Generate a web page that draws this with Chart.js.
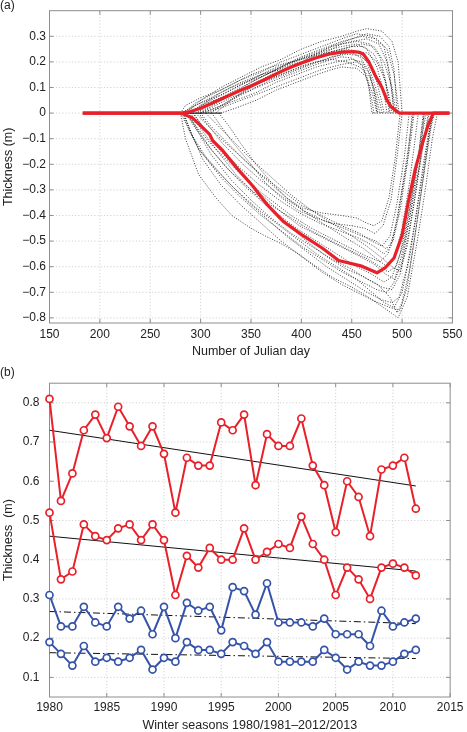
<!DOCTYPE html>
<html><head><meta charset="utf-8">
<script src="https://cdn.jsdelivr.net/npm/chart.js@4.4.0/dist/chart.umd.min.js"></script>
<style>
html,body{margin:0;padding:0;background:#fff;}
#wrap{position:relative;width:467px;height:732px;overflow:hidden;}
canvas{position:absolute;left:0;}
#ca{top:0}
#cb{top:366px}
</style></head><body>
<div id="wrap"><canvas id="ca" width="467" height="366"></canvas><canvas id="cb" width="467" height="366"></canvas></div>
<script>
// ---------- Panel (a): ice growth curves, [Julian day, thickness m] ----------
const dayTicks = [150, 200, 250, 300, 350, 400, 450, 500, 550];
const thicknessTicksA = [-0.8, -0.7, -0.6, -0.5, -0.4, -0.3, -0.2, -0.1, 0, 0.1, 0.2, 0.3];

const meanUpper = [[183,0],[281,0],[290,0.006],[300,0.019],[312,0.04],[325,0.063],[338,0.086],[351,0.108],[365,0.133],[378,0.159],[390,0.18],[401,0.197],[414,0.215],[427,0.23],[440,0.238],[452,0.24],[458,0.237],[462,0.228],[467,0.2],[473,0.15],[480,0.1],[485,0.05],[489,0.025],[497,0],[547,0]];
const meanLower = [[183,0],[281,0],[292,-0.019],[302,-0.057],[309,-0.083],[312,-0.108],[322,-0.147],[335,-0.21],[352,-0.286],[366,-0.358],[382,-0.423],[401,-0.477],[421,-0.528],[437,-0.576],[460,-0.598],[475,-0.624],[483,-0.605],[492,-0.566],[500,-0.477],[506,-0.35],[513,-0.22],[520,-0.12],[526,-0.045],[531,0],[547,0]];

const zeroStart = [[281,0],[321,0]];
const zeroEnd = [[470,0],[498,0]];

const U01 = [[280,0],[290,0.02],[300,0.04],[320,0.07],[340,0.11],[360,0.15],[380,0.18],[400,0.21],[420,0.24],[440,0.26],[455,0.27],[465,0.25],[475,0.18],[482,0.08],[485,0]];
const U02 = [[285,0],[300,0.05],[320,0.1],[340,0.14],[360,0.18],[380,0.21],[400,0.25],[420,0.28],[440,0.3],[455,0.32],[465,0.33],[480,0.32],[490,0.28],[496,0.2],[500,0]];
const U03 = [[290,0],[300,0.02],[320,0.06],[340,0.1],[360,0.14],[380,0.18],[400,0.22],[420,0.25],[440,0.28],[460,0.3],[475,0.29],[485,0.25],[492,0.15],[497,0]];
const U04 = [[295,0],[310,0.03],[330,0.07],[350,0.11],[370,0.15],[390,0.18],[410,0.21],[430,0.23],[445,0.25],[455,0.24],[465,0.2],[472,0.12],[478,0.04],[480,0]];
const U05 = [[300,0],[315,0.02],[335,0.06],[355,0.1],[375,0.13],[395,0.16],[415,0.19],[430,0.21],[440,0.22],[450,0.215],[460,0.19],[466,0.12],[470,0.05],[472,0]];
const U06 = [[305,0],[320,0.02],[340,0.05],[360,0.08],[380,0.11],[400,0.14],[420,0.17],[440,0.19],[455,0.2],[462,0.18],[467,0.1],[470,0]];
const U07 = [[310,0],[325,0.04],[345,0.09],[365,0.13],[385,0.16],[405,0.19],[425,0.21],[440,0.23],[450,0.24],[465,0.235],[475,0.2],[483,0.13],[488,0.05],[490,0]];
const U08 = [[320,0],[335,0.02],[355,0.05],[375,0.09],[395,0.12],[415,0.15],[430,0.17],[440,0.18],[455,0.175],[465,0.14],[471,0.07],[475,0]];
const U09 = [[280,0],[285,0.03],[300,0.06],[320,0.09],[340,0.13],[360,0.16],[380,0.2],[400,0.23],[420,0.26],[440,0.29],[455,0.31],[470,0.3],[482,0.26],[488,0.15],[492,0]];
const U10 = [[300,0],[312,0.03],[330,0.07],[350,0.12],[370,0.16],[390,0.19],[410,0.21],[430,0.24],[450,0.26],[462,0.26],[472,0.23],[480,0.17],[486,0.08],[488,0]];
const U11 = [[290,0],[300,0.03],[320,0.06],[340,0.09],[360,0.12],[380,0.15],[400,0.18],[415,0.2],[430,0.21],[445,0.2],[458,0.18],[468,0.14],[474,0.07],[478,0]];
const U12 = [[315,0],[330,0.05],[350,0.1],[370,0.14],[390,0.18],[410,0.22],[430,0.26],[450,0.29],[465,0.31],[478,0.3],[487,0.26],[492,0.17],[495,0]];
const U13 = [[283,0],[295,0.04],[310,0.07],[330,0.11],[350,0.15],[370,0.18],[390,0.2],[410,0.22],[430,0.24],[445,0.245],[458,0.22],[466,0.17],[472,0.1],[476,0]];
const U14 = [[288,0],[300,0.03],[320,0.08],[340,0.12],[360,0.15],[380,0.17],[400,0.2],[420,0.23],[440,0.25],[460,0.27],[472,0.26],[482,0.2],[490,0.1],[494,0]];
const U15 = [[284,0],[295,0.03],[310,0.06],[330,0.1],[350,0.13],[370,0.17],[390,0.2],[410,0.23],[430,0.26],[450,0.28],[465,0.29],[477,0.27],[485,0.2],[490,0.08],[492,0]];
const U16 = [[297,0],[310,0.02],[330,0.06],[350,0.09],[370,0.13],[390,0.16],[410,0.19],[430,0.22],[445,0.23],[458,0.225],[468,0.19],[475,0.12],[480,0.04],[482,0]];
const U17 = [[292,0],[305,0.04],[325,0.08],[345,0.12],[365,0.15],[385,0.19],[405,0.22],[425,0.24],[440,0.27],[455,0.28],[468,0.27],[478,0.22],[484,0.12],[487,0]];
const U18 = [[302,0],[315,0.02],[335,0.05],[355,0.08],[375,0.12],[395,0.15],[415,0.18],[435,0.2],[450,0.21],[460,0.2],[468,0.15],[473,0.06],[475,0]];

const L01 = [[280,0],[285,-0.1],[298,-0.24],[315,-0.33],[331,-0.4],[350,-0.45],[364,-0.48],[380,-0.51],[397,-0.55],[415,-0.6],[430,-0.64],[450,-0.68],[463,-0.71],[478,-0.75],[489,-0.78],[496,-0.8],[505,-0.72],[515,-0.5],[523,-0.3],[530,-0.1],[535,0]];
const L02 = [[311,0],[320,-0.05],[331,-0.11],[350,-0.2],[364,-0.27],[380,-0.33],[397,-0.38],[415,-0.41],[430,-0.43],[450,-0.44],[463,-0.45],[473,-0.47],[481,-0.44],[489,-0.34],[495,-0.17],[500,0]];
const L03 = [[282,0],[290,-0.08],[300,-0.15],[320,-0.25],[340,-0.33],[360,-0.4],[380,-0.46],[400,-0.52],[420,-0.57],[440,-0.62],[460,-0.66],[475,-0.69],[485,-0.7],[492,-0.66],[500,-0.55],[508,-0.4],[515,-0.25],[522,-0.1],[527,0]];
const L04 = [[285,0],[295,-0.05],[310,-0.12],[330,-0.2],[350,-0.28],[370,-0.34],[390,-0.4],[410,-0.45],[430,-0.49],[450,-0.53],[465,-0.56],[478,-0.58],[486,-0.55],[493,-0.45],[500,-0.3],[507,-0.15],[512,0]];
const L05 = [[290,0],[300,-0.06],[315,-0.14],[335,-0.24],[355,-0.32],[375,-0.39],[395,-0.45],[415,-0.5],[435,-0.55],[455,-0.6],[470,-0.63],[482,-0.66],[490,-0.64],[498,-0.55],[506,-0.4],[514,-0.22],[520,-0.08],[524,0]];
const L06 = [[295,0],[305,-0.04],[320,-0.1],[340,-0.17],[360,-0.24],[380,-0.3],[400,-0.36],[420,-0.4],[440,-0.44],[458,-0.47],[470,-0.5],[480,-0.52],[488,-0.48],[495,-0.35],[502,-0.18],[507,0]];
const L07 = [[280,0],[288,-0.06],[298,-0.14],[315,-0.22],[335,-0.3],[355,-0.37],[375,-0.43],[395,-0.49],[415,-0.55],[435,-0.6],[455,-0.65],[470,-0.7],[482,-0.74],[492,-0.76],[500,-0.7],[508,-0.55],[516,-0.35],[524,-0.15],[530,0]];
const L08 = [[300,0],[310,-0.05],[325,-0.11],[345,-0.19],[365,-0.26],[385,-0.33],[405,-0.39],[425,-0.44],[445,-0.49],[462,-0.53],[475,-0.57],[485,-0.6],[492,-0.57],[500,-0.45],[507,-0.28],[513,-0.1],[516,0]];
const L09 = [[305,0],[315,-0.04],[330,-0.1],[350,-0.18],[370,-0.25],[390,-0.32],[410,-0.38],[430,-0.43],[450,-0.48],[465,-0.52],[478,-0.56],[490,-0.6],[498,-0.62],[505,-0.52],[512,-0.35],[518,-0.18],[522,0]];
const L10 = [[288,0],[298,-0.07],[312,-0.15],[330,-0.23],[350,-0.3],[370,-0.36],[390,-0.41],[410,-0.46],[430,-0.5],[450,-0.54],[466,-0.57],[478,-0.6],[486,-0.62],[494,-0.6],[502,-0.5],[510,-0.32],[517,-0.14],[521,0]];
const L11 = [[318,0],[328,-0.05],[340,-0.12],[355,-0.2],[370,-0.27],[385,-0.33],[400,-0.37],[420,-0.39],[440,-0.4],[455,-0.41],[465,-0.43],[472,-0.44],[480,-0.42],[487,-0.33],[493,-0.18],[498,0]];
const L12 = [[283,0],[292,-0.09],[305,-0.17],[325,-0.26],[345,-0.34],[365,-0.41],[385,-0.48],[405,-0.54],[425,-0.6],[445,-0.65],[465,-0.7],[480,-0.73],[490,-0.74],[497,-0.72],[505,-0.6],[513,-0.42],[521,-0.2],[528,-0.04],[531,0]];
const L13 = [[292,0],[302,-0.05],[318,-0.13],[338,-0.21],[358,-0.28],[378,-0.34],[398,-0.39],[418,-0.43],[438,-0.46],[458,-0.49],[472,-0.52],[482,-0.55],[489,-0.52],[496,-0.4],[503,-0.22],[509,-0.06],[511,0]];
const L14 = [[285,0],[295,-0.06],[308,-0.13],[325,-0.21],[345,-0.29],[365,-0.36],[385,-0.43],[405,-0.5],[425,-0.56],[445,-0.61],[462,-0.64],[476,-0.67],[488,-0.72],[495,-0.78],[500,-0.74],[507,-0.62],[515,-0.42],[523,-0.2],[529,-0.05],[532,0]];
const L15 = [[287,0],[297,-0.07],[310,-0.16],[330,-0.26],[350,-0.34],[370,-0.41],[390,-0.47],[410,-0.52],[430,-0.57],[450,-0.61],[466,-0.65],[480,-0.68],[490,-0.69],[498,-0.63],[506,-0.48],[514,-0.3],[521,-0.12],[526,0]];
const L16 = [[298,0],[308,-0.05],[322,-0.12],[342,-0.2],[362,-0.27],[382,-0.33],[402,-0.38],[422,-0.42],[442,-0.45],[460,-0.48],[474,-0.5],[484,-0.53],[491,-0.5],[498,-0.38],[505,-0.2],[510,0]];
const L17 = [[283,0],[290,-0.07],[302,-0.18],[320,-0.28],[340,-0.36],[360,-0.43],[380,-0.5],[400,-0.56],[420,-0.62],[440,-0.67],[460,-0.71],[476,-0.74],[488,-0.76],[498,-0.77],[505,-0.68],[512,-0.5],[520,-0.28],[527,-0.08],[531,0]];
const L18 = [[293,0],[303,-0.06],[318,-0.14],[338,-0.23],[358,-0.31],[378,-0.38],[398,-0.44],[418,-0.48],[438,-0.52],[458,-0.56],[472,-0.59],[484,-0.63],[493,-0.65],[500,-0.58],[507,-0.42],[514,-0.24],[519,-0.08],[522,0]];

const seasonCurves = [U01,U02,U03,U04,U05,U06,U07,U08,U09,U10,U11,U12,U13,U14,U15,U16,U17,U18,
                      L01,L02,L03,L04,L05,L06,L07,L08,L09,L10,L11,L12,L13,L14,L15,L16,L17,L18];

// ---------- Panel (b): winter seasons ----------
const years = [1980,1981,1982,1983,1984,1985,1986,1987,1988,1989,1990,1991,1992,1993,1994,1995,1996,1997,1998,1999,2000,2001,2002,2003,2004,2005,2006,2007,2008,2009,2010,2011,2012];
const redUpper = [0.81,0.55,0.62,0.73,0.77,0.71,0.79,0.74,0.69,0.74,0.67,0.52,0.66,0.64,0.64,0.75,0.73,0.77,0.59,0.72,0.69,0.69,0.76,0.64,0.59,0.47,0.60,0.56,0.46,0.63,0.64,0.66,0.53];
const redLower = [0.52,0.35,0.37,0.49,0.46,0.45,0.48,0.49,0.45,0.49,0.45,0.31,0.41,0.38,0.43,0.40,0.40,0.48,0.40,0.42,0.44,0.43,0.51,0.44,0.40,0.31,0.38,0.35,0.30,0.38,0.39,0.38,0.36];
const blueUpper = [0.31,0.23,0.23,0.28,0.24,0.23,0.28,0.25,0.27,0.21,0.28,0.20,0.29,0.27,0.28,0.22,0.33,0.32,0.26,0.34,0.24,0.24,0.24,0.23,0.25,0.21,0.21,0.21,0.18,0.27,0.23,0.24,0.25];
const blueLower = [0.19,0.16,0.13,0.18,0.14,0.15,0.14,0.15,0.17,0.12,0.15,0.14,0.19,0.17,0.17,0.16,0.19,0.18,0.16,0.19,0.14,0.14,0.14,0.14,0.17,0.15,0.12,0.14,0.13,0.13,0.14,0.16,0.17];
const trendYears = [1980, 2012];
const redUpperTrend = [0.73, 0.588];
const redLowerTrend = [0.46, 0.371];
const blueUpperTrend = [0.268, 0.237];
const blueLowerTrend = [0.163, 0.148];
const yearTicks = [1980,1985,1990,1995,2000,2005,2010,2015];
const thicknessTicksB = [0.1,0.2,0.3,0.4,0.5,0.6,0.7,0.8];

// ---------- styling ----------
const RED = '#e8202a', BLUE = '#3553a9', TXT = '#222';
const FONT = "'Liberation Sans', Arial, Helvetica, sans-serif";
Chart.defaults.font.family = FONT;
Chart.defaults.color = TXT;

const framePlugin = {
  id: 'frame',
  beforeDatasetsDraw(chart, args, opts) {
    const {ctx, chartArea: a, scales: {x, y}} = chart;
    ctx.save();
    ctx.lineWidth = 0.8; ctx.strokeStyle = '#bfbfbf'; ctx.setLineDash([1, 2.2]);
    const seg = (x1, y1, x2, y2) => { ctx.beginPath(); ctx.moveTo(x1, y1); ctx.lineTo(x2, y2); ctx.stroke(); };
    x.ticks.forEach(t => { const p = x.getPixelForValue(t.value); if (p > a.left + 1 && p < a.right - 1) seg(p, a.top, p, a.bottom); });
    y.ticks.forEach(t => { const p = y.getPixelForValue(t.value); if (p > a.top + 1 && p < a.bottom - 1) seg(a.left, p, a.right, p); });
    ctx.setLineDash([]);
    ctx.strokeStyle = '#8e8e8e'; ctx.lineWidth = 1;
    ctx.strokeRect(a.left, a.top, a.right - a.left, a.bottom - a.top);
    const L = 4;
    x.ticks.forEach(t => { const p = x.getPixelForValue(t.value); seg(p, a.bottom, p, a.bottom - L); seg(p, a.top, p, a.top + L); });
    y.ticks.forEach(t => { const p = y.getPixelForValue(t.value); seg(a.left, p, a.left + L, p); seg(a.right, p, a.right - L, p); });
    ctx.restore();
  },
  afterDraw(chart, args, opts) {
    const ctx = chart.ctx;
    ctx.save();
    ctx.font = '12px ' + FONT; ctx.fillStyle = TXT;
    ctx.textAlign = 'left'; ctx.textBaseline = 'middle';
    ctx.fillText(opts.label, 0, opts.labelY);
    ctx.restore();
  }
};

const toXY = arr => arr.map(p => ({x: p[0], y: p[1]}));
const fixedTicks = list => (s => { s.ticks = list.map(v => ({value: v})); });

function makeOptions(cfg) {
  return {
    responsive: false, animation: false, events: [],
    layout: {padding: cfg.padding},
    plugins: {legend: {display: false}, tooltip: {enabled: false}, frame: {label: cfg.label, labelY: cfg.labelY}},
    elements: {line: {tension: 0}},
    scales: {
      x: {
        type: 'linear', min: cfg.xmin, max: cfg.xmax,
        afterBuildTicks: fixedTicks(cfg.xticks),
        afterFit: s => { s.height = cfg.xAxisH; },
        grid: {display: false, drawTicks: false}, border: {display: false},
        ticks: {font: {size: 12}, color: TXT, padding: cfg.xTickPad, maxRotation: 0, autoSkip: false, callback: v => String(v)},
        title: {display: true, text: cfg.xTitle, font: {size: 12.5, lineHeight: 1}, color: TXT, padding: {top: 0, bottom: cfg.xTitlePad}}
      },
      y: {
        type: 'linear', min: cfg.ymin, max: cfg.ymax,
        afterBuildTicks: fixedTicks(cfg.yticks),
        afterFit: s => { s.width = 49.5; },
        grid: {display: false, drawTicks: false}, border: {display: false},
        ticks: {font: {size: 12}, color: TXT, padding: cfg.yTickPad, autoSkip: false, callback: cfg.yFmt},
        title: {display: true, text: cfg.yTitle, font: {size: 12.5, lineHeight: 1}, color: TXT, padding: {top: 2, bottom: 0}}
      }
    }
  };
}

// ---------- chart (a) ----------
const dsA = [];
dsA.push({data: toXY(meanUpper), borderColor: RED, borderWidth: 3.2, pointRadius: 0, borderJoinStyle: 'round', order: 0});
dsA.push({data: toXY(meanLower), borderColor: RED, borderWidth: 3.2, pointRadius: 0, borderJoinStyle: 'round', order: 0});
seasonCurves.forEach(c => dsA.push({data: toXY(c), borderColor: 'rgba(0,0,0,0.9)', borderWidth: 0.85, borderDash: [1, 1.6], pointRadius: 0, order: 2}));
dsA.push({data: toXY(zeroStart), borderColor: '#000', borderWidth: 1, pointRadius: 0, order: 1});
dsA.push({data: toXY(zeroEnd), borderColor: 'rgba(0,0,0,0.9)', borderWidth: 0.9, borderDash: [1, 1.6], pointRadius: 0, order: 1});

new Chart(document.getElementById('ca'), {
  type: 'line',
  data: {datasets: dsA},
  options: makeOptions({
    padding: {top: 4, right: 13, left: 0, bottom: 0},
    label: '(a)', labelY: 6,
    xmin: 150, xmax: 550, xticks: dayTicks, xAxisH: 43, xTickPad: 4.5, xTitlePad: 7.75,
    xTitle: 'Number of Julian day',
    ymin: -0.82, ymax: 0.4, yticks: thicknessTicksA, yTickPad: 3.5,
    yTitle: 'Thickness (m)',
    yFmt: v => Math.abs(v) < 1e-9 ? '0' : (v < 0 ? '\u2212' : '') + Math.abs(v).toFixed(1)
  }),
  plugins: [framePlugin]
});

// ---------- chart (b) ----------
const seriesStyle = (vals, col) => ({
  data: years.map((yr, i) => ({x: yr, y: vals[i]})),
  borderColor: col, borderWidth: 2, pointRadius: 3.5, pointBorderWidth: 1.7,
  pointBackgroundColor: '#fff', pointBorderColor: col, clip: false, order: 0
});
const trendStyle = (vals, dash) => ({
  data: trendYears.map((yr, i) => ({x: yr, y: vals[i]})),
  borderColor: '#111', borderWidth: 1, borderDash: dash, pointRadius: 0, order: 1
});

new Chart(document.getElementById('cb'), {
  type: 'line',
  data: {datasets: [
    seriesStyle(redUpper, RED), seriesStyle(redLower, RED),
    seriesStyle(blueUpper, BLUE), seriesStyle(blueLower, BLUE),
    trendStyle(redUpperTrend, []), trendStyle(redLowerTrend, []),
    trendStyle(blueUpperTrend, [7, 3, 1.5, 3]), trendStyle(blueLowerTrend, [7, 3, 1.5, 3])
  ]},
  options: makeOptions({
    padding: {top: 13, right: 14, left: 0, bottom: 0},
    label: '(b)', labelY: 7,
    xmin: 1980, xmax: 2015, xticks: yearTicks, xAxisH: 35, xTickPad: 3.5, xTitlePad: 0,
    xTitle: 'Winter seasons 1980/1981\u20132012/2013',
    ymin: 0.05, ymax: 0.85, yticks: thicknessTicksB, yTickPad: 10,
    yTitle: 'Thickness  (m)',
    yFmt: v => v.toFixed(1)
  }),
  plugins: [framePlugin]
});
</script>
</body></html>
